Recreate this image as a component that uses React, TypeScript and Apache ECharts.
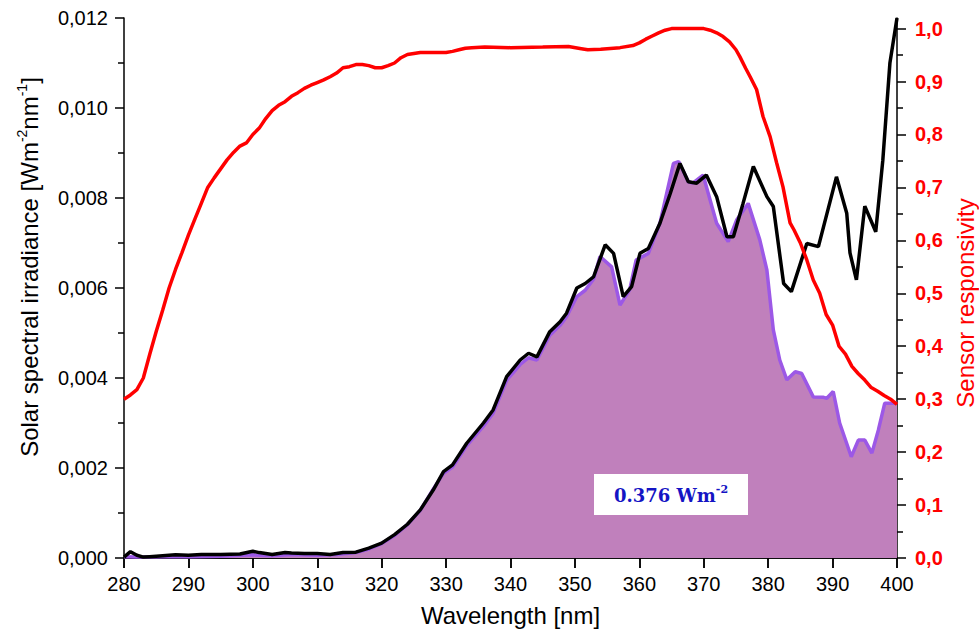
import React, { useEffect, useRef } from "react";
import * as echarts from "echarts";

// Sensor responsivity (right axis)
const respWl = [280, 281, 282, 283, 284, 285, 286, 287, 288, 289, 290, 291, 292, 293, 294, 295, 296, 297, 298, 299, 300, 301, 302, 303, 304, 305, 306, 307, 308, 309, 310, 311, 312, 313, 314, 315, 316, 317, 318, 319, 320, 321, 322, 323, 324, 325, 326, 328, 330, 331, 332, 333, 334, 336, 340, 345, 349, 351, 352, 354, 357, 359, 360, 361, 362, 363, 364, 365, 370, 371, 372, 373, 374, 375, 375.6, 376.5, 377.2, 378.2, 379.2, 380.3, 381.3, 382.3, 383.4, 384, 385, 386, 387, 388, 389, 390, 391, 392, 393, 394, 395, 396, 397, 398, 399, 400];
const respVal = [0.300, 0.308, 0.318, 0.340, 0.385, 0.428, 0.468, 0.510, 0.545, 0.577, 0.610, 0.640, 0.670, 0.700, 0.718, 0.735, 0.752, 0.766, 0.778, 0.784, 0.800, 0.812, 0.830, 0.845, 0.855, 0.862, 0.872, 0.879, 0.887, 0.893, 0.898, 0.903, 0.909, 0.916, 0.926, 0.928, 0.932, 0.932, 0.930, 0.926, 0.926, 0.930, 0.935, 0.945, 0.951, 0.953, 0.955, 0.955, 0.955, 0.957, 0.960, 0.963, 0.964, 0.965, 0.964, 0.965, 0.966, 0.962, 0.960, 0.961, 0.964, 0.968, 0.973, 0.980, 0.986, 0.992, 0.997, 1.000, 1.000, 0.997, 0.992, 0.985, 0.975, 0.960, 0.947, 0.925, 0.909, 0.885, 0.834, 0.796, 0.747, 0.701, 0.633, 0.620, 0.595, 0.563, 0.525, 0.500, 0.460, 0.440, 0.400, 0.385, 0.362, 0.348, 0.336, 0.322, 0.315, 0.307, 0.300, 0.290];

// Solar spectral irradiance (black line, left axis)
const irrWl = [280, 281, 282, 283, 284, 286, 288, 290, 292, 295, 298, 300, 301, 303, 305, 306, 308, 310, 312, 314, 316, 318, 320, 322, 324, 326, 328, 329.6, 331, 333.2, 335.8, 337.3, 339.4, 341.5, 342.8, 344.1, 346.1, 347.7, 348.7, 350.3, 351.6, 352.9, 354.7, 356, 357.5, 358.8, 360.1, 361.4, 363.2, 364.8, 366.3, 367.6, 368.9, 370.4, 372, 373.6, 374.6, 376.1, 377.7, 379.8, 380.8, 382.4, 383.6, 386, 387.8, 390.6, 392.2, 392.7, 393.7, 395, 396.7, 397.8, 398.9, 400];
const irrVal = [0.00002, 0.00014, 0.00006, 0.00002, 0.00003, 0.00005, 0.00007, 0.00006, 0.00008, 0.00008, 0.00009, 0.00015, 0.00012, 0.00008, 0.00012, 0.00011, 0.0001, 0.0001, 0.00008, 0.00012, 0.00013, 0.00022, 0.00033, 0.00052, 0.00075, 0.00107, 0.00151, 0.00192, 0.00207, 0.00255, 0.0030, 0.00329, 0.00403, 0.0044, 0.00455, 0.00447, 0.00503, 0.00525, 0.00544, 0.0060, 0.0061, 0.00625, 0.00696, 0.00677, 0.00581, 0.00603, 0.00677, 0.00688, 0.00744, 0.0081, 0.00877, 0.00836, 0.00833, 0.00851, 0.00803, 0.00714, 0.00714, 0.00788, 0.0087, 0.00803, 0.00781, 0.0061, 0.00592, 0.00699, 0.00692, 0.00847, 0.00766, 0.00678, 0.00618, 0.00782, 0.00725, 0.00884, 0.0110, 0.0120];

// Responsivity-weighted irradiance (purple area, left axis)
const wWl = [280, 282, 284, 286, 290, 295, 300, 303, 306, 310, 313, 316, 318, 320, 322, 324, 326, 328, 329.6, 331, 333.2, 335.8, 337.3, 339.4, 341.5, 342.8, 344.1, 346.1, 347.7, 348.7, 350.3, 351.6, 352.9, 353.9, 355.7, 357, 358.5, 359.5, 361.4, 363.2, 365.3, 366.1, 367.6, 368.3, 369.9, 372, 373.8, 375.1, 376.9, 378.7, 379.8, 380.8, 381.8, 382.9, 384.2, 385.2, 387, 388.6, 389.1, 390.1, 391.1, 392.9, 394, 395, 396.1, 397.1, 398.1, 400];
const wVal = [0.00003, 0.00002, 0.00002, 0.00003, 0.00003, 0.00004, 0.00007, 0.00005, 0.00008, 0.00006, 0.00008, 0.00012, 0.0002, 0.00032, 0.0005, 0.00074, 0.00106, 0.00153, 0.00188, 0.00202, 0.0025, 0.00293, 0.00322, 0.00395, 0.0043, 0.00445, 0.0044, 0.00495, 0.00517, 0.00536, 0.00581, 0.00595, 0.0062, 0.0067, 0.00647, 0.00562, 0.00596, 0.00662, 0.00677, 0.00744, 0.00877, 0.00881, 0.00836, 0.00833, 0.00851, 0.00744, 0.00703, 0.00751, 0.00788, 0.00707, 0.0064, 0.00507, 0.0044, 0.00396, 0.00414, 0.0041, 0.00358, 0.00357, 0.00355, 0.0037, 0.003, 0.00225, 0.00262, 0.00262, 0.00233, 0.00284, 0.00344, 0.00344];

const rightMajor = [0, 0.1, 0.2, 0.3, 0.4, 0.5, 0.6, 0.7, 0.8, 0.9, 1.0];
const rightMinor = [0.05, 0.15, 0.25, 0.35, 0.45, 0.55, 0.65, 0.75, 0.85, 0.95];

const xTitle = "Wavelength [nm]";
const leftTitle = "{a|Solar spectral irradiance [Wm}{s|-2}{a|nm}{s|-1}{a|]}";
const rightTitle = "Sensor responsivity";
const annotation = "{a|0.376 Wm}{s|-2}";

const zip = (xs: number[], ys: number[]) => xs.map((x, i) => [x, ys[i]]);

const SANS = "Liberation Sans, Arial, sans-serif";

export default function App() {
  const ref = useRef<HTMLDivElement>(null);
  useEffect(() => {
    if (!ref.current) return;
    const chart = echarts.init(ref.current, null, { renderer: "svg" });
    const axisLine = { show: true, lineStyle: { color: "#000", width: 1.5 } };
    chart.setOption({
      animation: false,
      backgroundColor: "#fff",
      grid: { left: 124, right: 82, top: 18, bottom: 75, containLabel: false },
      xAxis: [
        {
          type: "value",
          min: 280,
          max: 400,
          interval: 10,
          position: "bottom",
          name: xTitle,
          nameLocation: "middle",
          nameGap: 45,
          nameTextStyle: { fontFamily: SANS, fontSize: 24, color: "#000" },
          axisLine,
          axisTick: { show: true, inside: false, length: 10, lineStyle: { color: "#000", width: 1.5 } },
          axisLabel: { fontFamily: SANS, fontSize: 20, color: "#000", margin: 16 },
          splitLine: { show: false },
        },
        {
          type: "value",
          min: 280,
          max: 400,
          interval: 10,
          position: "top",
          axisLine,
          axisTick: { show: true, inside: true, length: 10, lineStyle: { color: "#000", width: 1.5 } },
          axisLabel: { show: false },
          splitLine: { show: false },
        },
      ],
      yAxis: [
        {
          type: "value",
          min: 0,
          max: 0.012,
          interval: 0.002,
          position: "left",
          axisLine,
          axisTick: { show: true, inside: false, length: 9, lineStyle: { color: "#000", width: 1.5 } },
          minorTick: { show: true, splitNumber: 2, length: 6, lineStyle: { color: "#000", width: 1.5 } },
          axisLabel: {
            fontFamily: SANS,
            fontSize: 20,
            color: "#000",
            margin: 16,
            formatter: (v: number) => v.toFixed(3).replace(".", ","),
          },
          splitLine: { show: false },
        },
        {
          type: "value",
          min: 0,
          max: 1.02,
          interval: 0.1,
          position: "right",
          axisLine,
          axisTick: { show: true, inside: false, length: 9, customValues: rightMajor, lineStyle: { color: "#000", width: 1.5 } },
          axisLabel: {
            fontFamily: SANS,
            fontSize: 20,
            fontWeight: "bold",
            color: "#ff0000",
            margin: 18,
            customValues: rightMajor,
            formatter: (v: number) => v.toFixed(1).replace(".", ","),
          },
          splitLine: { show: false },
        },
        {
          type: "value",
          min: 0,
          max: 1.02,
          position: "right",
          axisLine: { show: false },
          axisTick: { show: true, inside: false, length: 6, customValues: rightMinor, lineStyle: { color: "#000", width: 1.5 } },
          axisLabel: { show: false },
          splitLine: { show: false },
        },
      ],
      graphic: [
        {
          type: "text",
          x: 29,
          y: 267,
          rotation: Math.PI / 2,
          style: {
            text: leftTitle,
            align: "center",
            verticalAlign: "middle",
            fill: "#000",
            rich: {
              a: { fontFamily: SANS, fontSize: 24, lineHeight: 28, fill: "#000", color: "#000" },
              s: { fontFamily: SANS, fontSize: 14, lineHeight: 28, verticalAlign: "top", fill: "#000", color: "#000" },
            },
          },
        },
        {
          type: "text",
          x: 965,
          y: 303,
          rotation: Math.PI / 2,
          style: {
            text: rightTitle,
            align: "center",
            verticalAlign: "middle",
            fill: "#ff0000",
            font: `24px ${SANS}`,
          },
        },
        {
          type: "rect",
          shape: { x: 594, y: 474, width: 154, height: 41 },
          style: { fill: "#fff" },
          z: 10,
        },
        {
          type: "text",
          x: 671,
          y: 495,
          z: 11,
          style: {
            text: annotation,
            align: "center",
            verticalAlign: "middle",
            rich: {
              a: { fontFamily: "DejaVu Serif", fontWeight: "bold", fontSize: 18, lineHeight: 22, fill: "#1414c4", color: "#1414c4" },
              s: { fontFamily: "DejaVu Serif", fontWeight: "bold", fontSize: 11, lineHeight: 22, verticalAlign: "top", fill: "#1414c4", color: "#1414c4" },
            },
          },
        },
      ],
      series: [
        {
          name: "Weighted irradiance",
          type: "line",
          xAxisIndex: 0,
          yAxisIndex: 0,
          data: zip(wWl, wVal),
          showSymbol: false,
          symbol: "none",
          lineStyle: { color: "#9c58e6", width: 3.5 },
          areaStyle: { color: "#c080bc", opacity: 1 },
          z: 2,
        },
        {
          name: "Solar spectral irradiance",
          type: "line",
          xAxisIndex: 0,
          yAxisIndex: 0,
          data: zip(irrWl, irrVal),
          showSymbol: false,
          symbol: "none",
          lineStyle: { color: "#000", width: 3.5 },
          z: 3,
        },
        {
          name: "Sensor responsivity",
          type: "line",
          xAxisIndex: 0,
          yAxisIndex: 1,
          data: zip(respWl, respVal),
          showSymbol: false,
          symbol: "none",
          lineStyle: { color: "#ff0000", width: 3.5 },
          z: 4,
        },
      ],
    });
    return () => chart.dispose();
  }, []);
  return (
    <div
      ref={ref}
      style={{ position: "fixed", left: 0, top: 0, width: 979, height: 633, background: "#fff" }}
    />
  );
}
